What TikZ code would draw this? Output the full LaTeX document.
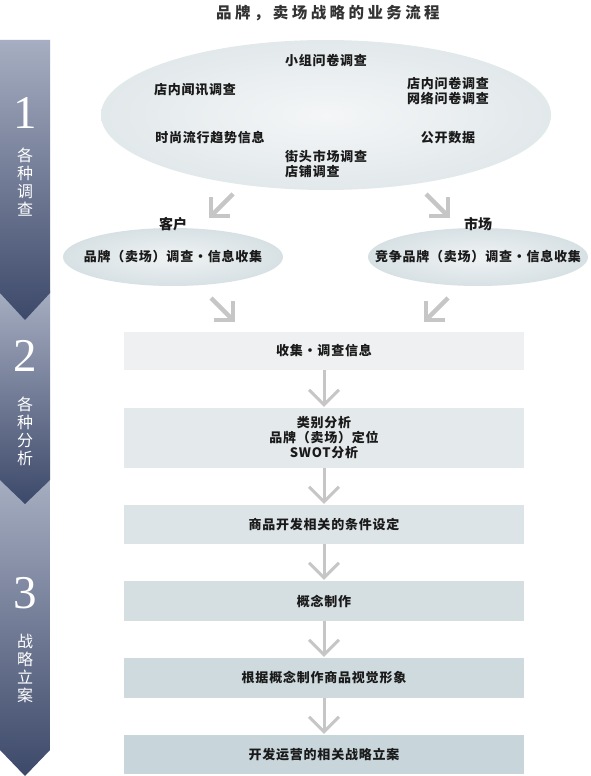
\documentclass[tikz,border=0pt]{standalone}
\usepackage{fontspec}
\setmainfont{Noto Sans CJK SC}
\newfontfamily\numfont{Liberation Serif}
\usetikzlibrary{shapes.geometric,calc}
\definecolor{bandtop}{HTML}{A6AEC1}
\definecolor{bandbot}{HTML}{3D496A}
\definecolor{txt}{HTML}{1A1A1A}
\definecolor{ttl}{HTML}{333333}
\definecolor{arrgray}{HTML}{C6C6C6}
\definecolor{boxA}{HTML}{EEF0F1}
\definecolor{boxB}{HTML}{E4E9EB}
\definecolor{boxC}{HTML}{DDE4E7}
\definecolor{boxD}{HTML}{D5DFE2}
\definecolor{boxE}{HTML}{CEDADE}
\definecolor{boxF}{HTML}{C8D6DB}
\pgfdeclareradialshading{bigell}{\pgfpoint{0bp}{0bp}}{color(0bp)=(rgb,255:red,244;green,246;blue,247); color(50bp)=(rgb,255:red,208;green,219;blue,223); color(72bp)=(rgb,255:red,208;green,219;blue,223)}
\pgfdeclareradialshading{smallell}{\pgfpoint{0bp}{0bp}}{color(0bp)=(rgb,255:red,240;green,243;blue,244); color(50bp)=(rgb,255:red,190;green,206;blue,212); color(72bp)=(rgb,255:red,190;green,206;blue,212)}
\begin{document}
\begin{tikzpicture}[x=1pt,y=-1pt,
  band/.style={top color=bandtop, bottom color=bandbot, draw=none},
  numlbl/.style={text=white, font=\numfont\fontsize{47}{47}\selectfont, inner sep=0},
  vlbl/.style={text=white, font=\fontsize{16}{18}\selectfont, align=center, inner sep=0},
  itm/.style={text=txt, font=\bfseries\fontsize{13}{15}\selectfont\addfontfeature{LetterSpace=6}, inner sep=0},
  itml/.style={itm, align=left},
  stepbox/.style={minimum width=400pt, inner sep=0, text=txt, align=center,
    font=\bfseries\fontsize{13}{15}\selectfont\addfontfeature{LetterSpace=6}},
  downarr/.style={draw=arrgray, line width=3pt},
  larr/.style={draw=arrgray, line width=4.5pt, miter limit=10}
]
\useasboundingbox[fill=white] (0,0) rectangle (590,776);

% title
\node[text=ttl, font=\bfseries\fontsize{15.5}{15.5}\selectfont\addfontfeature{LetterSpace=22}, inner sep=0] (title) at (328,13) {品牌，卖场战略的业务流程};

% left band
\path[band] (0,478) -- (50,478) -- (50,750) -- (25,776) -- (0,750) -- cycle;
\path[band] (0,290) -- (50,290) -- (50,480) -- (25,504) -- (0,480) -- cycle;
\path[band] (0,40) -- (50,40) -- (50,293) -- (25,320) -- (0,293) -- cycle;
\node[numlbl] (n1) at (25,113) {1};
\node[vlbl] (v1) at (25,182) {各\\种\\调\\查};
\node[numlbl] (n2) at (25,356) {2};
\node[vlbl] (v2) at (25,431) {各\\种\\分\\析};
\node[numlbl] (n3) at (25,593) {3};
\node[vlbl] (v3) at (25,668) {战\\略\\立\\案};

% big ellipse
\node[ellipse, minimum width=450pt, minimum height=150pt, draw=none, shading=bigell] (big) at (326,115) {};
\node[itm] (e1) at (326,61) {小组问卷调查};
\node[itml] (e3) at (448,91) {店内问卷调查\\网络问卷调查};
\node[itm] (e2) at (195,90) {店内闻讯调查};
\node[itm] (e4) at (210,138) {时尚流行趋势信息};
\node[itm] (e5) at (448,138) {公开数据};
\node[itml, anchor=west] (e6) at (285,164) {街头市场调查\\店铺调查};

% diagonal arrows top
\coordinate (d1s) at (233,194);
\coordinate (d1e) at (211,216);
\coordinate (d2s) at (426,194);
\coordinate (d2e) at (448,216);
\draw[larr] (d1s) -- (d1e);
\draw[larr] ($(d1e)+(0,-19)$) -- (d1e) -- ($(d1e)+(19,0)$);
\draw[larr] (d2s) -- (d2e);
\draw[larr] ($(d2e)+(0,-19)$) -- (d2e) -- ($(d2e)+(-19,0)$);

% small ellipses
\node[ellipse, minimum width=220pt, minimum height=58pt, draw=none, shading=smallell] (se1) at (173,257) {};
\node[ellipse, minimum width=220pt, minimum height=58pt, draw=none, shading=smallell] (se2) at (478,257) {};
\node[itm] (t1) at (se1) {品牌（卖场）调查・信息收集};
\node[itm] (t2) at (se2) {竞争品牌（卖场）调查・信息收集};
\node[itm, font=\bfseries\fontsize{14}{15}\selectfont] (k1) at (173,224) {客户};
\node[itm, font=\bfseries\fontsize{14}{15}\selectfont] (k2) at (478,224) {市场};

% diagonal arrows bottom
\coordinate (d3s) at (211,298);
\coordinate (d3e) at (233,320);
\coordinate (d4s) at (448,298);
\coordinate (d4e) at (426,320);
\draw[larr] (d3s) -- (d3e);
\draw[larr] ($(d3e)+(0,-19)$) -- (d3e) -- ($(d3e)+(-19,0)$);
\draw[larr] (d4s) -- (d4e);
\draw[larr] ($(d4e)+(0,-19)$) -- (d4e) -- ($(d4e)+(19,0)$);

% boxes
\node[stepbox, fill=boxA, minimum height=38pt] (b1) at (324,351) {收集・调查信息};
\node[stepbox, fill=boxB, minimum height=60pt] (b2) at (324,438) {类别分析\\品牌（卖场）定位\\SWOT分析};
\node[stepbox, fill=boxC, minimum height=39pt] (b3) at (324,524.5) {商品开发相关的条件设定};
\node[stepbox, fill=boxD, minimum height=40pt] (b4) at (324,601) {概念制作};
\node[stepbox, fill=boxE, minimum height=40pt] (b5) at (324,678) {根据概念制作商品视觉形象};
\node[stepbox, fill=boxF, minimum height=39pt] (b6) at (324,754.5) {开发运营的相关战略立案};

% down arrows
\foreach \pa/\pb in {b1/b2,b2/b3,b3/b4,b4/b5,b5/b6}{
  \coordinate (tip) at ($(\pb.north)+(0,-3)$);
  \draw[downarr] (\pa.south) -- (tip);
  \draw[downarr, line join=miter] ($(tip)+(-15,-15)$) -- (tip) -- ($(tip)+(15,-15)$);
}
\end{tikzpicture}
\end{document}
